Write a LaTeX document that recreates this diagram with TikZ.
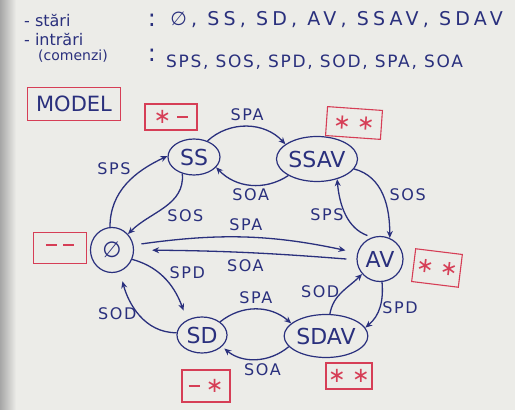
\documentclass[tikz,border=0pt]{standalone}
\usepackage{fontspec}
\setmainfont{DejaVu Sans}
\newfontfamily\wide{DejaVu Sans}[LetterSpace=22]
\newfontfamily\hand{DejaVu Sans}[LetterSpace=10]
\usetikzlibrary{arrows.meta, positioning, calc, shapes.geometric}

\definecolor{ink}{RGB}{42,48,125}
\definecolor{marker}{RGB}{214,62,86}
\definecolor{board}{RGB}{236,236,232}

\newcommand{\starmark}{{\fontsize{21}{21}\selectfont ∗}}
\newcommand{\dashmark}{\rule[0.3em]{0.55em}{1.6pt}}

\begin{document}
\begin{tikzpicture}[
    x=1pt, y=1pt,
    state/.style={ellipse, draw=ink, line width=1.2pt, inner sep=0pt, font=\fontsize{22}{22}\selectfont, text=ink},
    tag/.style={rectangle, draw=marker, line width=1.1pt, inner sep=0pt, font=\fontsize{20}{20}\selectfont, text=marker},
    hdr/.style={font=\wide\fontsize{19}{19}\selectfont, text=ink, inner sep=0pt},
    small/.style={font=\fontsize{16}{16}\selectfont, text=ink, inner sep=0pt},
    lab/.style={font=\hand\fontsize{16}{16}\selectfont, text=ink, inner sep=2pt},
    arrow/.style={-{Stealth[length=7pt, width=6pt]}, ink, line width=1.3pt}
]

% ---- Board ----
\fill[board] (0,0) rectangle (515,410);
\shade[left color=gray!70, right color=board] (0,0) rectangle (16,410);
\useasboundingbox (0,0) rectangle (515,410);

% ---- Header ----
\node[small, anchor=west] (stari) at (24,390) {- stări};
\node[hdr, font=\fontsize{24}{24}\selectfont] (col1) at (152,390) {:};
\node[hdr, right=14pt of col1] (stlist) {∅, SS, SD, AV, SSAV, SDAV};
\node[small, anchor=west] (intrari) at (24,371) {- intrări};
\node[small, anchor=west, font=\fontsize{14}{14}\selectfont] (comenzi) at (38,354) {(comenzi)};
\node[hdr, font=\fontsize{24}{24}\selectfont] (col2) at (152,355) {:};
\node[hdr, anchor=west, font=\hand\fontsize{17}{17}\selectfont] (inlist) at (166,348) {SPS, SOS, SPD, SOD, SPA, SOA};

% ---- Model tag ----
\node[tag, minimum width=93pt, minimum height=33pt, text=ink, font=\fontsize{21}{21}\selectfont] (model) at (74,306) {MODEL};

% ---- States ----
\node[state, minimum width=43pt, minimum height=45pt] (phi) at (112,160) {∅};
\node[state, minimum width=52pt, minimum height=36pt] (ss) at (194,253) {SS};
\node[state, minimum width=81pt, minimum height=45pt] (ssav) at (317,251) {SSAV};
\node[state, minimum width=46pt, minimum height=45pt] (av) at (380,151) {AV};
\node[state, minimum width=50pt, minimum height=36pt] (sd) at (202,75) {SD};
\node[state, minimum width=67pt, minimum height=43pt] (sdav) at (326,74) {SDAV};

% ---- Output tags ----
\node[tag, minimum width=52pt, minimum height=26pt] (tss) at ($(ss)+(-23,40)$) {\starmark\ \dashmark};
\node[tag, minimum width=55pt, minimum height=29pt, rotate=-4] (tssav) at ($(ssav)+(37,36)$) {\starmark\ \starmark};
\node[tag, minimum width=53pt, minimum height=31pt] (tphi) at ($(phi)+(-52,2)$) {\dashmark\ \dashmark};
\node[tag, minimum width=47pt, minimum height=33pt, rotate=-7] (tav) at ($(av)+(57,-9)$) {\starmark\ \starmark};
\node[tag, minimum width=48pt, minimum height=32pt] (tsd) at ($(sd)+(4,-51)$) {\dashmark\ \starmark};
\node[tag, minimum width=46pt, minimum height=26pt] (tsdav) at ($(sdav)+(23,-40)$) {\starmark\ \starmark};

% ---- Transitions ----
\draw[arrow] (ss.50) to[bend left=45] node[lab, above=3pt] {SPA} (ssav.155);
\draw[arrow] (ssav.210) to[bend left=40] node[lab, below=1pt] {SOA} (ss.-25);
\draw[arrow] (phi.95) to[out=90, in=205] node[lab, above left, pos=0.6] {SPS} (ss.178);
\draw[arrow] (ss.235) to[out=-85, in=45] node[lab, below right] {SOS} (phi.45);
\draw[arrow] (ssav.-15) to[out=-15, in=90] node[lab, right=4pt] {SOS} (av.65);
\draw[arrow, shorten <=5pt] (av.110) to[out=160, in=-85] node[lab, left] {SPS} (ssav.-45);
\draw[arrow, shorten <=8pt, shorten >=12pt] (phi.13) to[bend left=10] node[lab, above=4pt] {SPA} (av.165);
\draw[arrow, shorten <=10pt, shorten >=18pt] (av.182) to[bend right=2] node[lab, below=4pt] {SOA} (phi.0);
\draw[arrow, shorten >=10pt] (phi.-25) to[out=-15, in=110] node[lab, above right] {SPD} (sd.135);
\draw[arrow, shorten >=10pt] (sd.175) to[out=180, in=-75] node[lab, left] {SOD} (phi.-70);
\draw[arrow] (sd.36) to[bend left=40] node[lab, above=3pt] {SPA} (sdav.160);
\draw[arrow, shorten >=3pt] (sdav.196) to[bend left=40] node[lab, below=2pt, pos=0.4] {SOA} (sd.-30);
\draw[arrow] (sdav.80) to[out=80, in=225] node[lab, left] {SOD} (av.220);
\draw[arrow] (av.-85) to[out=-85, in=40] node[lab, right] {SPD} (sdav.12);

\end{tikzpicture}
\end{document}
